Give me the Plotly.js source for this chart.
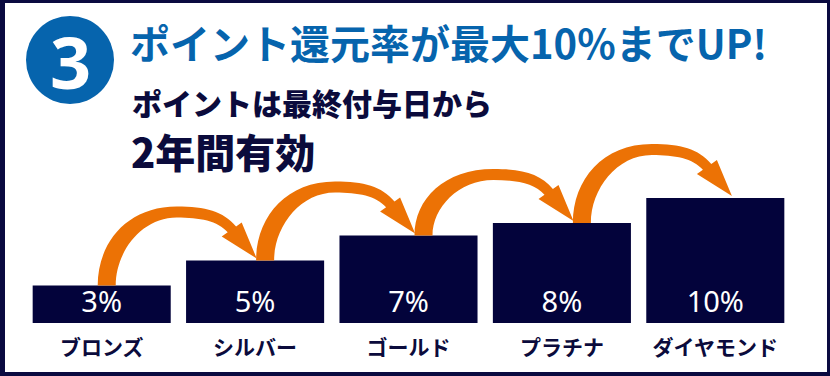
<!DOCTYPE html>
<html>
<head>
<meta charset="utf-8">
<script src="https://cdn.plot.ly/plotly-3.0.1.min.js"></script>
<style>
  html, body { margin: 0; padding: 0; background: #0a0a40; }
  #chart { width: 830px; height: 376px; }
</style>
</head>
<body>
<div id="chart"></div>
<script>
// ---- data ----
const categories = ['ブロンズ', 'シルバー', 'ゴールド', 'プラチナ', 'ダイヤモンド'];
const rates = [3, 5, 7, 8, 10];
const rateLabels = rates.map(v => v + '%');
const titleText = 'ポイント還元率が最大10%までUP!';
const subLine1 = 'ポイントは最終付与日から';
const subLine2 = '2年間有効';
const stepNumber = '3';

// ---- geometry / style ----
const W = 830, H = 376;
const M = { l: 25, r: 38, t: 73, b: 53 };
const plotW = W - M.l - M.r, plotH = H - M.t - M.b;
const xRange = [-0.5, categories.length - 0.5];
const yRange = [0, 20];
const pxPerX = plotW / (xRange[1] - xRange[0]);
const pxPerY = plotH / (yRange[1] - yRange[0]);
const plotBottom = M.t + plotH;

const NAVY = '#03033b';
const TEXT_NAVY = '#0b0b3c';
const BLUE = '#0664ad';
const ORANGE = '#ec7205';
const CJK = '"Noto Sans CJK JP", "Noto Sans", sans-serif';
const CJK_HEAVY = '"Noto Sans CJK JP Black", "Noto Sans CJK JP", "Noto Sans", sans-serif';

// pixel <-> data helpers
const xPix = v => M.l + (v - xRange[0]) * pxPerX;
const yPix = v => plotBottom - (v - yRange[0]) * pxPerY;
const xData = p => (p - M.l) / pxPerX + xRange[0];
const yData = p => (plotBottom - p) / pxPerY + yRange[0];
const xPaper = p => (p - M.l) / plotW;
const yPaper = p => (plotBottom - p) / plotH;

function pt(p) { return xData(p[0]).toFixed(4) + ',' + yData(p[1]).toFixed(4); }

// curved arrow from top of bar i to top of bar i+1
function arrowPath(i) {
  const sx = xPix(i) - 4 + 5 * i;
  const sy = yPix(rates[i]);
  const tx = sx + 159;
  const ty = yPix(rates[i + 1]) - 2;
  const peakO = ty - 52, peakI = ty - 41;
  const c1 = [tx - 35, ty - 22], c2 = [tx - 15, ty - 36];
  const jo = [c1[0] + 0.72 * (c2[0] - c1[0]), c1[1] + 0.72 * (c2[1] - c1[1])];
  const ji = [c1[0] + 0.3 * (c2[0] - c1[0]), c1[1] + 0.3 * (c2[1] - c1[1])];
  const d = [0.65, 0.76];
  let s = 'M ' + pt([sx, sy]);
  s += ' C ' + pt([sx, sy - 0.55 * (sy - peakO)]) + ' ' + pt([sx + 30, peakO]) + ' ' + pt([sx + 79, peakO]);
  s += ' C ' + pt([sx + 108, peakO]) + ' ' + pt([jo[0] - 20 * d[0], jo[1] - 20 * d[1]]) + ' ' + pt(jo);
  s += ' L ' + pt(c2) + ' L ' + pt([tx, ty]) + ' L ' + pt(c1) + ' L ' + pt(ji);
  s += ' C ' + pt([ji[0] - 15 * d[0], ji[1] - 15 * d[1]]) + ' ' + pt([sx + 102, peakI]) + ' ' + pt([sx + 79, peakI]);
  s += ' C ' + pt([sx + 44, peakI]) + ' ' + pt([sx + 18, sy - 0.5 * (sy - peakI)]) + ' ' + pt([sx + 18, sy]);
  s += ' Z';
  return s;
}

const idx = categories.map((_, i) => i);

const trace = {
  type: 'bar',
  x: idx,
  y: rates,
  text: rateLabels,
  textposition: 'inside',
  insidetextanchor: 'start',
  constraintext: 'none',
  textfont: { family: '"Noto Sans", sans-serif', size: 29, color: '#ffffff' },
  marker: { color: NAVY, line: { width: 0 } },
  hoverinfo: 'skip',
  cliponaxis: false
};

const shapes = [
  // white panel inside navy frame
  { type: 'rect', xref: 'paper', yref: 'paper', layer: 'below',
    x0: xPaper(5), x1: xPaper(827), y0: yPaper(372), y1: yPaper(3),
    fillcolor: '#ffffff', line: { width: 0 } },
  // number badge
  { type: 'circle', xref: 'paper', yref: 'paper', layer: 'above',
    xsizemode: 'pixel', ysizemode: 'pixel',
    xanchor: xPaper(70), yanchor: yPaper(60),
    x0: -44, x1: 44, y0: -44, y1: 44,
    fillcolor: BLUE, line: { width: 0 } }
];
for (let i = 0; i < rates.length - 1; i++) {
  shapes.push({ type: 'path', xref: 'x', yref: 'y', layer: 'above',
    path: arrowPath(i), fillcolor: ORANGE, line: { width: 0 } });
}

const annotations = [
  { text: stepNumber, xref: 'paper', yref: 'paper', x: xPaper(70), y: yPaper(61),
    xanchor: 'center', yanchor: 'middle', showarrow: false,
    font: { family: '"Noto Sans", sans-serif', size: 72, weight: 700, color: '#ffffff' } },
  { text: subLine1, xref: 'paper', yref: 'paper', x: xPaper(130), y: yPaper(101.5),
    xanchor: 'left', yanchor: 'middle', showarrow: false,
    font: { family: CJK_HEAVY, size: 30, weight: 900, color: TEXT_NAVY } },
  { text: subLine2, xref: 'paper', yref: 'paper', x: xPaper(129), y: yPaper(150.5),
    xanchor: 'left', yanchor: 'middle', showarrow: false,
    font: { family: CJK_HEAVY, size: 40, weight: 900, color: TEXT_NAVY } }
];

const layout = {
  width: W, height: H,
  margin: M,
  paper_bgcolor: '#0a0a40',
  plot_bgcolor: 'rgba(0,0,0,0)',
  showlegend: false,
  bargap: 0.1,
  title: {
    text: titleText,
    x: 130 / W, xref: 'container', xanchor: 'left',
    y: 1 - 45 / H, yref: 'container', yanchor: 'middle',
    font: { family: CJK, size: 40, weight: 700, color: BLUE }
  },
  xaxis: {
    range: xRange, tickvals: idx, ticktext: categories,
    showgrid: false, zeroline: false, showline: false, ticks: '',
    ticklabelstandoff: 10,
    tickfont: { family: CJK, size: 21, weight: 700, color: TEXT_NAVY },
    fixedrange: true
  },
  yaxis: { range: yRange, visible: false, fixedrange: true },
  shapes: shapes,
  annotations: annotations
};

Plotly.newPlot('chart', [trace], layout, { staticPlot: true, displayModeBar: false });
</script>
</body>
</html>
